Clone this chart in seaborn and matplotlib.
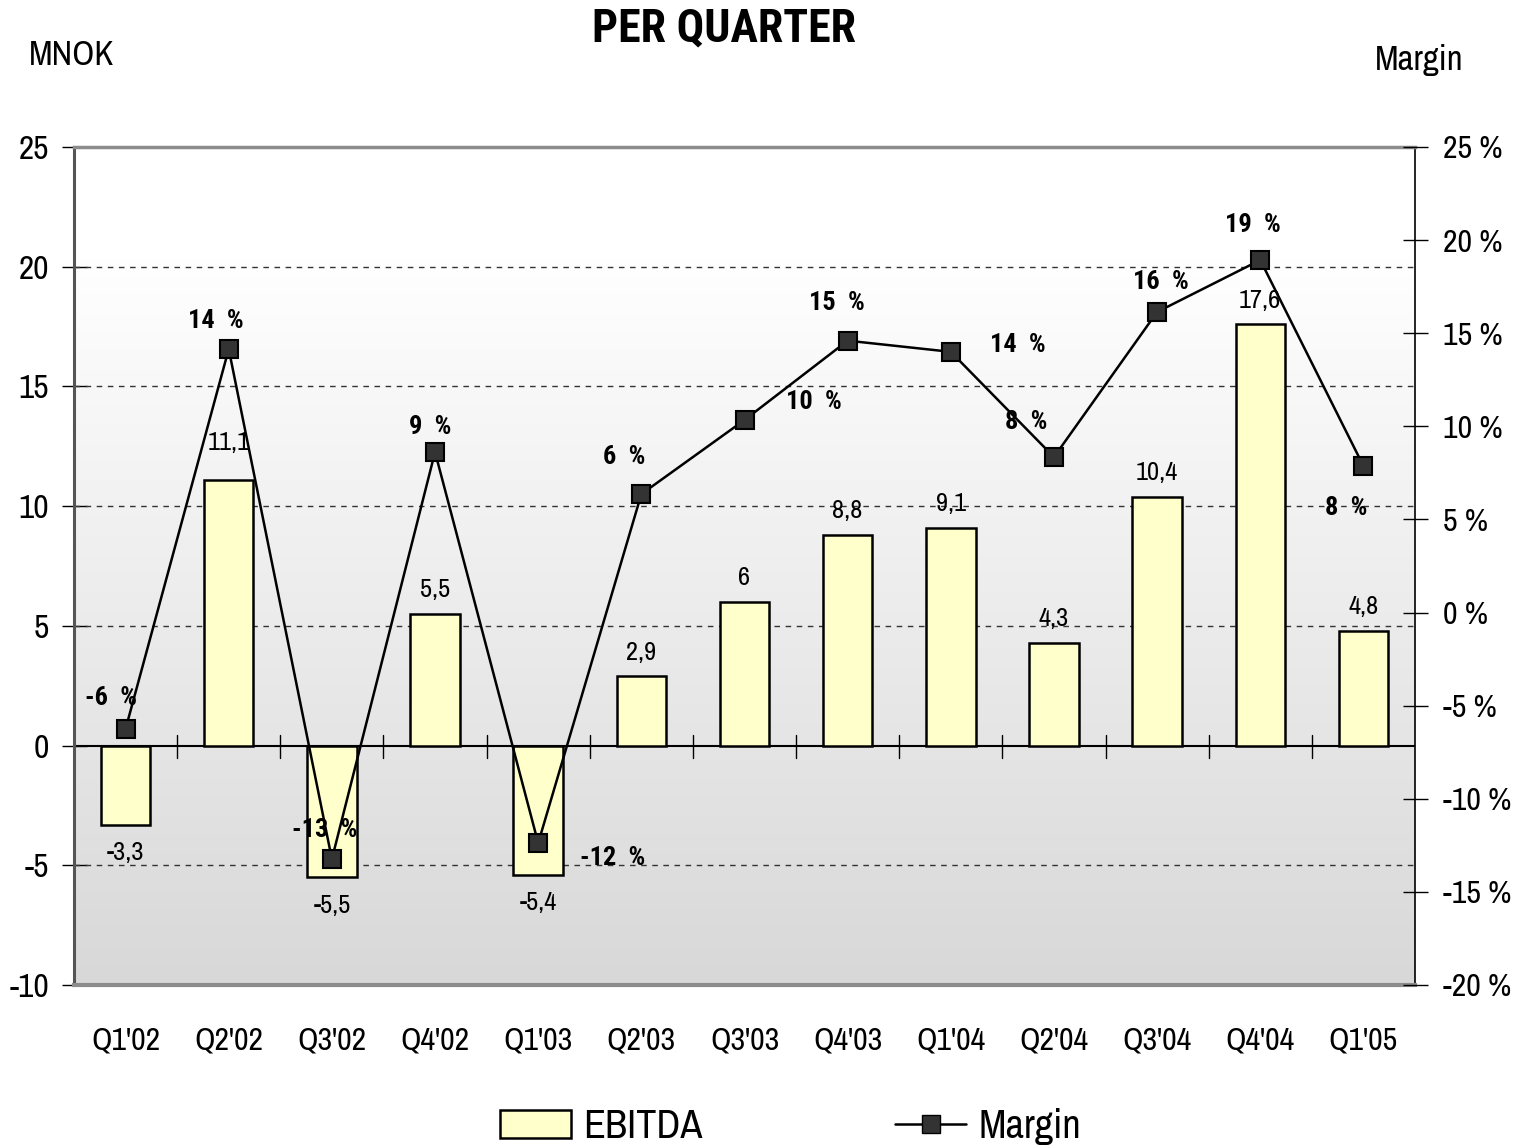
import numpy as np
import pandas as pd
import seaborn as sns
import matplotlib.pyplot as plt
from matplotlib.patches import Patch
from matplotlib.lines import Line2D
from matplotlib.colors import LinearSegmentedColormap

# veriler
quarters = ["Q1'02", "Q2'02", "Q3'02", "Q4'02", "Q1'03", "Q2'03", "Q3'03",
            "Q4'03", "Q1'04", "Q2'04", "Q3'04", "Q4'04", "Q1'05"]
ebitda = [-3.3, 11.1, -5.5, 5.5, -5.4, 2.9, 6.0, 8.8, 9.1, 4.3, 10.4, 17.6, 4.8]
margin = [-6.25, 14.15, -13.24, 8.62, -12.38, 6.36, 10.34, 14.6, 14.0, 8.35, 16.14, 18.93, 7.87]

# etiketlerin marker'a gore kaydirmasi (piksel)
margin_offsets = [(-15, 31), (-13, 28), (-7, 29), (-5, 25), (74, -15), (-17, 37), (69, 18),
                  (-11, 38), (67, 7), (-28, 35), (4, 30), (-7, 35), (-17, -42)]

sns.set_style("white")
narrow = ['Liberation Sans Narrow', 'Arial Narrow', 'Archivo Narrow',
          'Roboto Condensed', 'DejaVu Sans']
narrow_bold = ['Roboto Condensed', 'PT Sans Narrow', 'Archivo Narrow', 'DejaVu Sans']
plt.rcParams['font.family'] = narrow
plt.rcParams['text.color'] = 'black'
plt.rcParams['xtick.color'] = 'black'
plt.rcParams['ytick.color'] = 'black'

df = pd.DataFrame({"quarter": quarters, "ebitda": ebitda, "margin": margin})

fig = plt.figure(figsize=(15.2, 11.45), dpi=100)
ax = fig.add_axes([74 / 1520, 1 - 985 / 1145, (1415 - 74) / 1520, (985 - 147) / 1145])

# arka plan gradyani (ust beyaz, alt gri)
cmap = LinearSegmentedColormap.from_list("bg", [(0, "#ffffff"), (0.13, "#ffffff"), (1, "#d8d8d8")])
grad = np.linspace(1, 0, 256).reshape(-1, 1)
ax.imshow(grad, extent=[-0.5, 12.5, -10, 25], origin="lower", aspect="auto", cmap=cmap, zorder=0)

sns.barplot(data=df, x="quarter", y="ebitda", ax=ax, color="#ffffcc", saturation=1,
            edgecolor="black", linewidth=1.8, width=0.48, zorder=3)

for yv in [20, 15, 10, 5, -5]:
    ax.axhline(yv, color="#333333", lw=1, ls=(0, (4, 4)), zorder=1)
ax.axhline(0, color="black", lw=1.5, zorder=2)
for xb in np.arange(0.5, 12, 1):
    ax.plot([xb, xb], [-0.5, 0.45], color="black", lw=1, zorder=2)

ax.set_xlim(-0.5, 12.5)
ax.set_ylim(-10, 25)
ax.set_yticks(range(-10, 26, 5))
ax.set_yticklabels([str(v) for v in range(-10, 26, 5)])
ax.set_xlabel("")
ax.set_ylabel("")
ax.tick_params(axis="y", direction="inout", length=18, width=1, labelsize=24, pad=9, left=True)
ax.tick_params(axis="x", length=0, labelsize=23, pad=30)

for i, v in enumerate(ebitda):
    txt = f"{v:g}".replace(".", ",")
    off = 24 if v >= 0 else -28
    if i == 1:
        off = 37
    ax.annotate(txt, (i, v), xytext=(0, off), textcoords="offset pixels",
                ha="center", va="center", fontsize=19, zorder=5)

ax.spines["left"].set_color("#555555")
ax.spines["left"].set_linewidth(2.2)
ax.spines["right"].set_color("black")
ax.spines["right"].set_linewidth(1.2)
ax.spines["top"].set_color("#8c8c8c")
ax.spines["top"].set_linewidth(2.5)
ax.spines["bottom"].set_color("#8c8c8c")
ax.spines["bottom"].set_linewidth(3)

ax2 = ax.twinx()
sns.lineplot(x=np.arange(len(margin)), y=margin, ax=ax2, color="black", lw=1.8,
             marker="s", markersize=13, markerfacecolor="#333333", markeredgecolor="black",
             markeredgewidth=1.5, zorder=6)
ax2.set_ylim(-20, 25)
ax2.set_yticks(range(-20, 26, 5))
ax2.set_yticklabels([f"{v} %" for v in range(-20, 26, 5)])
ax2.tick_params(axis="y", direction="inout", length=18, width=1, labelsize=23, pad=11, right=True)
ax2.set_xlim(-0.5, 12.5)
for s in ax2.spines.values():
    s.set_visible(False)

for i, (v, o) in enumerate(zip(margin, margin_offsets)):
    ax2.annotate(f"{round(v)}  %", (i, v), xytext=o, textcoords="offset pixels",
                 ha="center", va="center", fontsize=19, fontweight="bold",
                 family=narrow_bold, zorder=7)

fig.text(0.476, 0.975, "PER QUARTER", ha="center", va="center", fontsize=33,
         fontweight="bold", family=narrow_bold)
fig.text(0.047, 0.952, "MNOK", ha="center", va="center", fontsize=25)
fig.text(0.934, 0.948, "Margin", ha="center", va="center", fontsize=25)

handles = [Patch(facecolor="#ffffcc", edgecolor="black", linewidth=1.8),
           Line2D([0], [0], color="black", lw=1.8, marker="s", markersize=13,
                  markerfacecolor="#333333", markeredgecolor="black")]
fig.legend(handles, ["EBITDA", "Margin"], loc="center", bbox_to_anchor=(0.52, 0.016),
           ncol=2, frameon=False, fontsize=29, columnspacing=4.8, handlelength=1.75,
           handletextpad=0.3, borderaxespad=0)

fig.savefig("out.png", dpi=100)
